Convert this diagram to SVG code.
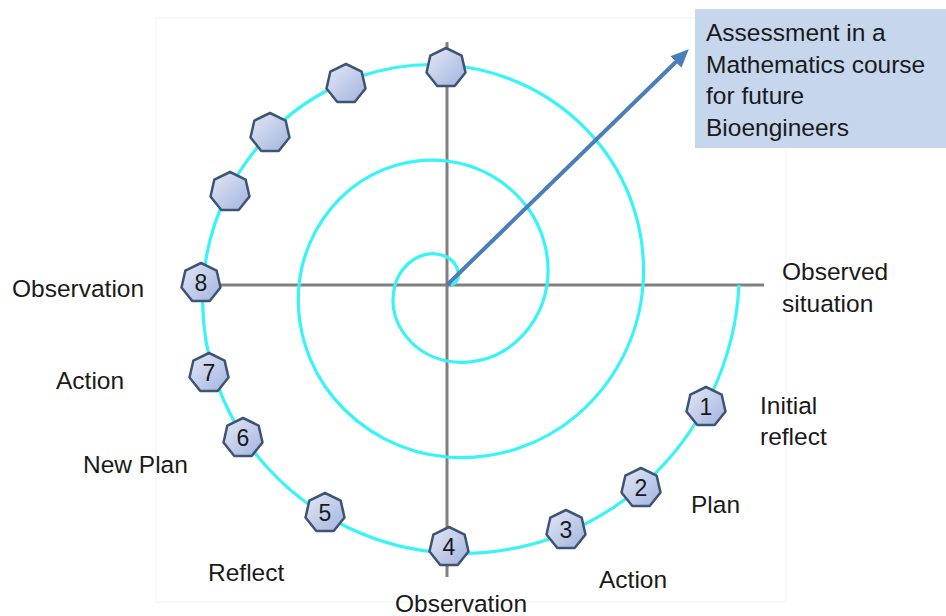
<svg xmlns="http://www.w3.org/2000/svg" xmlns:xlink="http://www.w3.org/1999/xlink" width="946" height="616" viewBox="0 0 946 616">
<style>
.lbl{font-family:"Liberation Sans",Arial,sans-serif;font-size:24.5px;fill:#1a1a1a}
.num{font-family:"Liberation Sans",Arial,sans-serif;font-size:23px;fill:#1a1a1a;text-anchor:middle}
.axis{stroke:#808080;stroke-width:3;fill:none}
.spiral{stroke:#38f4f7;stroke-width:3.2;fill:none}
.hep{fill:url(#hg);stroke:#3d5475;stroke-width:2.5;stroke-linejoin:round}
</style>
<defs>
<linearGradient id="hg" x1="0" y1="0" x2="1" y2="1">
<stop offset="0" stop-color="#e4e9f7"/>
<stop offset="1" stop-color="#a2b3de"/>
</linearGradient>
<polygon id="hp" points="0,-20 15.64,-12.47 19.5,4.45 8.68,18.02 -8.68,18.02 -19.5,4.45 -15.64,-12.47"/>
<marker id="ah" viewBox="0 -8 18 16" refX="1" refY="0" markerWidth="18" markerHeight="16" markerUnits="userSpaceOnUse" orient="auto">
<path d="M0,-8 L18,0 L0,8 z" fill="#4a7ebb"/>
</marker>
</defs>
<rect x="156" y="18" width="630" height="584" fill="none" stroke="#f3f3f3" stroke-width="1"/>
<g id="connectors">
<line class="axis" x1="447" y1="42" x2="447" y2="577"/>
<line class="axis" x1="205" y1="285" x2="764" y2="285"/>
<path class="spiral" d="M451,285 A10,10 0 0 0 458.31,273.69 A22,22 0 0 0 447,257 A34,34 0 0 0 418.72,256.72 A46,46 0 0 0 395,285 A58,58 0 0 0 401.75,330.25 A70,70 0 0 0 447,361 A82,82 0 0 0 509.23,347.23 A94,94 0 0 0 547,285 A106,106 0 0 0 526.2,205.8 A118,118 0 0 0 447,161 A130,130 0 0 0 350.83,188.83 A142,142 0 0 0 299,285 A154,154 0 0 0 333.86,398.14 A166,166 0 0 0 447,457 A178,178 0 0 0 577.11,415.11 A190,190 0 0 0 643,285 A202,202 0 0 0 594.08,137.92 A214,214 0 0 0 447,65 A226,226 0 0 0 282.95,120.95 A238,238 0 0 0 203,285 A250,250 0 0 0 265.98,466.02 A262,262 0 0 0 447,553 A274,274 0 0 0 644.99,482.99 A286,286 0 0 0 739,285"/>
<line x1="447" y1="285" x2="676.6" y2="61.2" stroke="#4a7ebb" stroke-width="4" marker-end="url(#ah)"/>
</g>
<g id="n1"><use href="#hp" class="hep" x="706" y="407"/><text class="num" x="706" y="415">1</text></g>
<g id="n2"><use href="#hp" class="hep" x="641" y="488"/><text class="num" x="641" y="496">2</text></g>
<g id="n3"><use href="#hp" class="hep" x="566" y="530"/><text class="num" x="566" y="538">3</text></g>
<g id="n4"><use href="#hp" class="hep" x="449" y="547"/><text class="num" x="449" y="555">4</text></g>
<g id="n5"><use href="#hp" class="hep" x="325" y="513"/><text class="num" x="325" y="521">5</text></g>
<g id="n6"><use href="#hp" class="hep" x="243" y="438"/><text class="num" x="243" y="446">6</text></g>
<g id="n7"><use href="#hp" class="hep" x="209" y="373"/><text class="num" x="209" y="381">7</text></g>
<g id="n8"><use href="#hp" class="hep" x="201" y="283"/><text class="num" x="201" y="291">8</text></g>
<g id="n9"><use href="#hp" class="hep" x="230" y="192"/></g>
<g id="n10"><use href="#hp" class="hep" x="270" y="133"/></g>
<g id="n11"><use href="#hp" class="hep" x="346" y="84"/></g>
<g id="n12"><use href="#hp" class="hep" x="446" y="68"/></g>
<g id="labels">
<text class="lbl" x="12" y="297">Observation</text>
<text class="lbl" x="56" y="389">Action</text>
<text class="lbl" x="83" y="473">New Plan</text>
<text class="lbl" x="208" y="581">Reflect</text>
<text class="lbl" x="395" y="612">Observation</text>
<text class="lbl" x="599" y="588">Action</text>
<text class="lbl" x="691" y="513">Plan</text>
<text class="lbl" x="760" y="414">Initial</text>
<text class="lbl" x="760" y="445">reflect</text>
<text class="lbl" x="782" y="280">Observed</text>
<text class="lbl" x="782" y="312">situation</text>
</g>
<g id="box">
<rect x="695" y="9" width="251" height="139" fill="#c6d6ed"/>
<text class="lbl" x="706" y="41">Assessment in a</text>
<text class="lbl" x="706" y="73">Mathematics course</text>
<text class="lbl" x="706" y="104">for future</text>
<text class="lbl" x="706" y="136">Bioengineers</text>
</g>
</svg>
